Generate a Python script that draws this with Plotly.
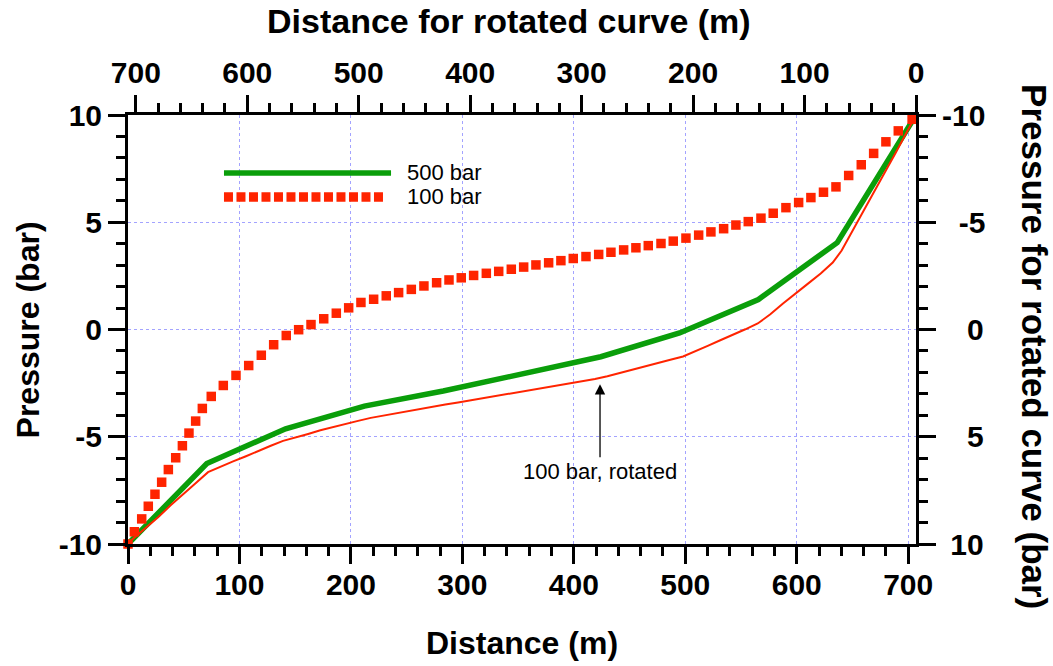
import plotly.graph_objects as go

# ---------------- data ----------------
# 100 bar curve (squares); the same data drawn on the top/right (rotated) axes as a thin line
dist_100 = [0, 5.7, 12.3, 18.2, 24.2, 30.2, 36.2, 42.8, 48.8, 54.7, 60.7, 66.7, 74.7,
            85.5, 96.9, 108.3, 119.6, 130.7, 142.0, 153.1, 164.2, 175.6, 186.9, 198.0,
            209.0, 220.4, 231.7, 242.8, 254.2, 265.5, 276.9, 288.0, 299.0, 310.1, 321.5,
            332.6, 343.9, 355.0, 366.0, 377.4, 388.4, 399.5, 410.9, 422.3, 433.3, 444.7,
            455.7, 466.8, 478.2, 489.2, 500.6, 512.0, 523.0, 534.4, 545.4, 556.5, 567.9,
            578.9, 590.3, 601.7, 612.7, 624.0, 635.2, 646.6, 657.9, 669.0, 680.0, 691.1,
            703.5]
pres_100 = [-10.0, -9.43, -8.83, -8.24, -7.68, -7.12, -6.53, -5.98, -5.42, -4.83, -4.27, -3.68, -3.12,
            -2.61, -2.14, -1.68, -1.20, -0.71, -0.28, -0.01, 0.23, 0.50, 0.76, 1.01,
            1.26, 1.41, 1.57, 1.72, 1.87, 2.03, 2.18, 2.31, 2.41, 2.52, 2.62,
            2.71, 2.81, 2.91, 3.01, 3.11, 3.21, 3.31, 3.40, 3.50, 3.60, 3.71,
            3.81, 3.91, 4.01, 4.12, 4.26, 4.40, 4.55, 4.70, 4.87, 5.03, 5.19,
            5.42, 5.68, 5.92, 6.15, 6.40, 6.65, 7.18, 7.68, 8.21, 8.75, 9.26,
            9.80]

# 500 bar curve
dist_500 = [0, 70.7, 141.4, 212.1, 282.8, 353.5, 424.2, 494.9, 565.6, 636.3, 707.0]
pres_500 = [-10.0, -6.25, -4.63, -3.57, -2.87, -2.10, -1.27, -0.16, 1.40, 4.05, 10.0]

x_ticks = [0, 100, 200, 300, 400, 500, 600, 700]
x_tick_text = ["0", "100", "200", "300", "400", "500", "600", "700"]
y_ticks = [-10, -5, 0, 5, 10]
y_tick_text = ["-10", "-5", "0", "5", "10"]
# right-hand labels, padded so that they line up on the right
y2_tick_text = ["-10", "\u2007-5", "\u2007\u20080", "\u2007\u20085", "\u200810"]

legend_names = ["500 bar", "100 bar"]

GREEN = "#0a9e0a"
RED = "#ff2400"
GRID = "#a3a3ff"
FONT = "Liberation Sans, Arial, sans-serif"

fig = go.Figure()
fig.add_trace(go.Scatter(x=dist_100, y=pres_100, xaxis="x2", yaxis="y2", mode="lines",
                         line=dict(color=RED, width=2), showlegend=False, cliponaxis=False))
fig.add_trace(go.Scatter(x=dist_500, y=pres_500, mode="lines",
                         line=dict(color=GREEN, width=5.5), showlegend=False, cliponaxis=False))
fig.add_trace(go.Scatter(x=dist_100, y=pres_100, mode="markers",
                         marker=dict(symbol="square", size=9.5, color=RED, line=dict(width=0)),
                         showlegend=False, cliponaxis=False))

tickfont = dict(family=FONT, size=30, color="black", weight="bold")
common = dict(ticks="outside", ticklen=17, tickwidth=2.5, tickcolor="black",
              showline=True, linewidth=3, linecolor="black", zeroline=False,
              tickfont=tickfont, tickmode="array", autorange=False)

fig.update_layout(
    width=1053, height=666, autosize=False,
    margin=dict(l=128, r=137, t=115, b=122, pad=0),
    paper_bgcolor="white", plot_bgcolor="white",
    showlegend=False,
    xaxis=dict(range=[0, 707], tickvals=x_ticks, ticktext=x_tick_text,
               showgrid=True, gridcolor=GRID, griddash="dot", gridwidth=1,
               ticklabelstandoff=-5,
               minor=dict(tickmode="linear", tick0=0, dtick=20, ticks="outside", ticklen=9,
                          tickwidth=2.5, tickcolor="black", showgrid=False),
               **common),
    yaxis=dict(range=[-10, 10], tickvals=y_ticks, ticktext=y_tick_text,
               showgrid=True, gridcolor=GRID, griddash="dot", gridwidth=1,
               minor=dict(tickmode="linear", tick0=0, dtick=1, ticks="outside", ticklen=9,
                          tickwidth=2.5, tickcolor="black", showgrid=False),
               **common),
    xaxis2=dict(range=[707, 0], tickvals=x_ticks, ticktext=x_tick_text, overlaying="x",
                side="top", anchor="y", showgrid=False,
                minor=dict(tickmode="linear", tick0=0, dtick=20, ticks="outside", ticklen=9,
                           tickwidth=2.5, tickcolor="black", showgrid=False),
                **common),
    yaxis2=dict(range=[10, -10], tickvals=y_ticks, ticktext=y2_tick_text, overlaying="y",
                side="right", anchor="x", showgrid=False,
                minor=dict(tickmode="linear", tick0=0, dtick=1, ticks="outside", ticklen=9,
                           tickwidth=2.5, tickcolor="black", showgrid=False),
                **common),
)

titlefont = dict(family=FONT, size=32, color="black", weight="bold")
fig.add_annotation(text="Distance (m)", xref="paper", yref="paper", x=0.5, y=-0.2308,
                   showarrow=False, font=titlefont, xanchor="center", yanchor="middle")
fig.add_annotation(text="Distance for rotated curve (m)", xref="paper", yref="paper", x=0.484, y=1.266,
                   showarrow=False, font=dict(titlefont, size=34), xanchor="center", yanchor="top",
                   borderpad=0)
fig.add_annotation(text="Pressure (bar)", xref="paper", yref="paper", x=-0.127, y=0.5,
                   showarrow=False, font=titlefont, textangle=-90, xanchor="center", yanchor="middle")
fig.add_annotation(text="Pressure for rotated curve (bar)", xref="paper", yref="paper", x=1.151, y=0.459,
                   showarrow=False, font=dict(titlefont, size=35), textangle=90,
                   xanchor="center", yanchor="middle")

# in-plot legend
fig.add_shape(type="line", xref="paper", yref="paper", x0=0.1218, x1=0.3338, y0=0.865, y1=0.865,
              line=dict(color=GREEN, width=5.5))
fig.add_shape(type="line", xref="paper", yref="paper", x0=0.1218, x1=0.3236, y0=0.809, y1=0.809,
              line=dict(color=RED, width=9.5, dash="9px,3.5px"))
labfont = dict(family=FONT, size=22, color="black")
fig.add_annotation(text=legend_names[0], xref="paper", yref="paper", x=0.352, y=0.865,
                   showarrow=False, font=labfont, xanchor="left", yanchor="middle")
fig.add_annotation(text=legend_names[1], xref="paper", yref="paper", x=0.352, y=0.809,
                   showarrow=False, font=labfont, xanchor="left", yanchor="middle")

# arrow annotation
fig.add_annotation(text="100 bar, rotated", xref="x", yref="y", x=423.5, y=-2.55,
                   ax=0, ay=87, showarrow=True, arrowhead=2, arrowsize=1.6, arrowwidth=1.3,
                   arrowcolor="black", font=labfont, standoff=0)

fig.write_html("out.html")
